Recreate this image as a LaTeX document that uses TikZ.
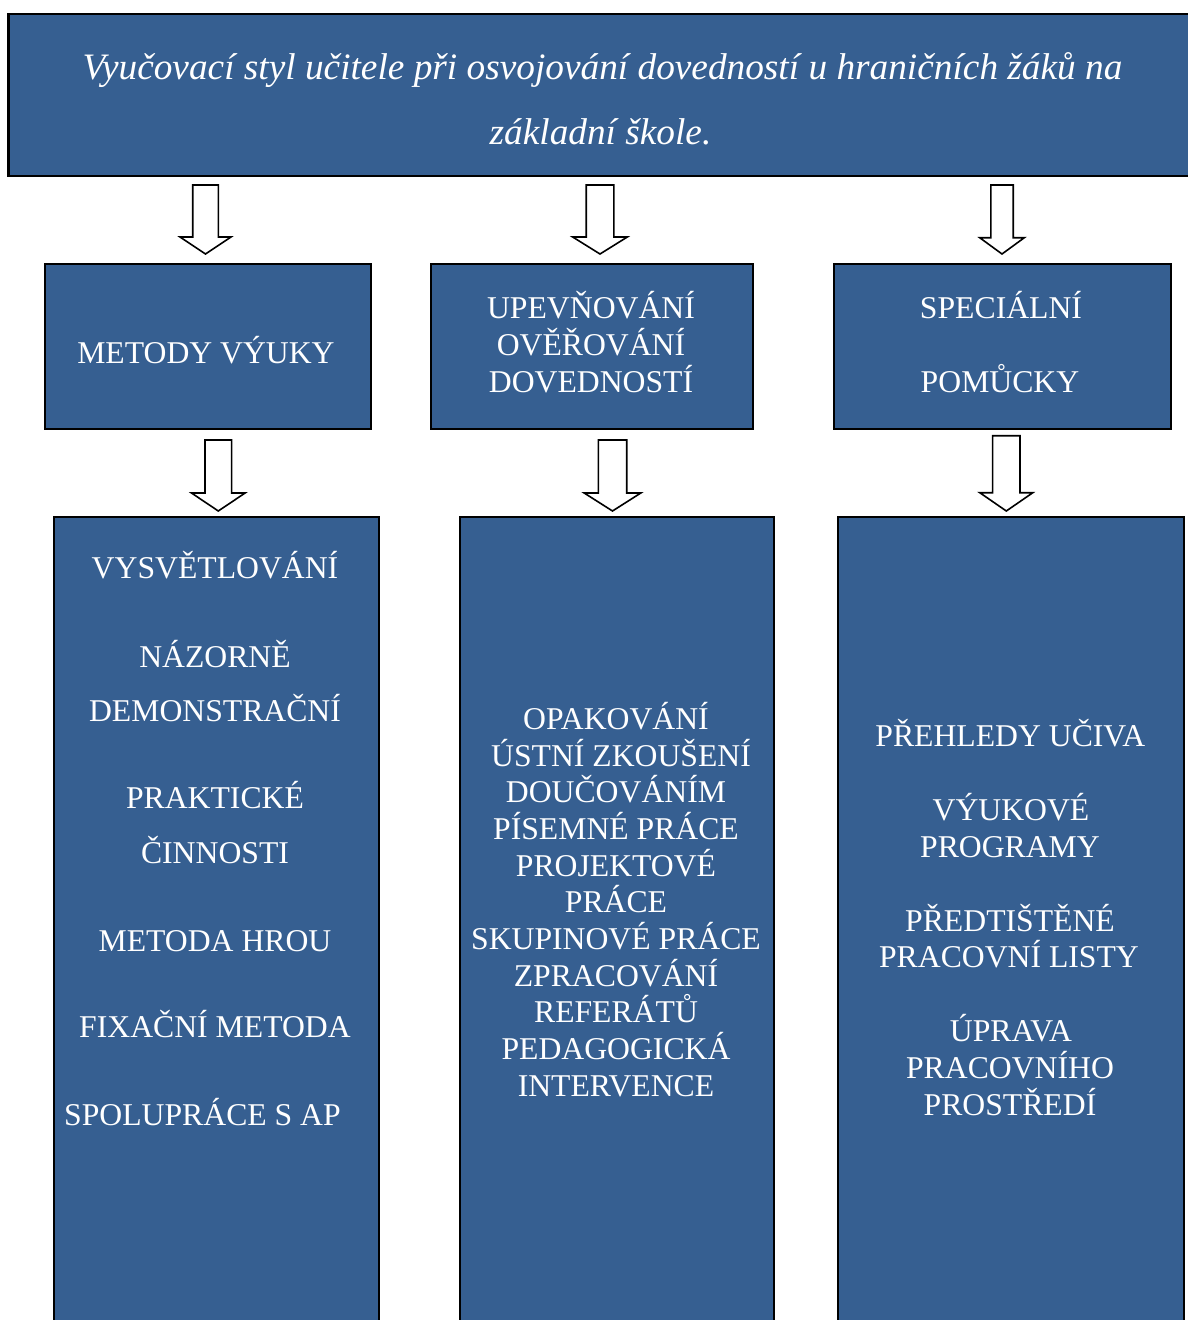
\documentclass[tikz,border=0pt]{standalone}
\usepackage{fontspec}
\setmainfont{Liberation Serif}
\definecolor{boxblue}{RGB}{54,95,145}
\tikzset{
  box/.style={draw=black, line width=2.6pt, fill=boxblue, inner sep=0pt, anchor=north west},
  txt/.style={text=white, inner sep=0pt, anchor=base, font=\fontsize{31.7}{36.7}\selectfont},
  ttl/.style={text=white, inner sep=0pt, anchor=base, font=\fontsize{37.3}{40}\selectfont\itshape},
  barrow/.style={draw=black, fill=white, line width=1.6pt, line join=miter}
}
\newcommand\blockarrow[6]{%
  \draw[barrow] ({#1-#2},#4) -- ({#1+#2},#4) -- ({#1+#2},#5) -- ({#1+#3},#5) -- (#1,#6)
    -- ({#1-#3},#5) -- ({#1-#2},#5) -- cycle;}
\begin{document}
\begin{tikzpicture}[x=1pt,y=-1pt]
\useasboundingbox (0,0) rectangle (1188,1320);
\clip (0,0) rectangle (1188,1320);
% title box
\node[box, minimum width=1200pt, minimum height=162pt] (title) at (7,12.5) {};
\node[ttl] (tl1) at (602.5,79) {Vyučovací styl učitele při osvojování dovedností u hraničních žáků na};
\node[ttl] (tl2) at (600.5,144) {základní škole.};
% middle row boxes
\node[box, minimum width=326pt, minimum height=165pt] (m1) at (43.5,262.5) {};
\node[box, minimum width=322pt, minimum height=165pt] (m2) at (429.5,262.5) {};
\node[box, minimum width=337pt, minimum height=165pt] (m3) at (832.5,262.5) {};
% bottom boxes
\node[box, minimum width=325pt, minimum height=830pt] (b1) at (52.5,515.5) {};
\node[box, minimum width=314pt, minimum height=830pt] (b2) at (458.5,515.5) {};
\node[box, minimum width=346pt, minimum height=830pt] (b3) at (836.5,515.5) {};
% arrows
\blockarrow{205.5}{12.8}{25.5}{185}{237}{254}
\blockarrow{600}{13.8}{27.3}{185}{237}{254}
\blockarrow{1002}{11.2}{22.3}{185}{237.7}{254}
\blockarrow{218.3}{13.3}{26.8}{440}{493}{511}
\blockarrow{612.5}{14.2}{28.3}{440}{493}{511}
\blockarrow{1006.3}{13.7}{26.5}{435.7}{492.7}{511}
% middle row texts
\node[txt] (m1a) at (206,363) {METODY VÝUKY};
\node[txt] (m2a) at (591,318.3) {UPEVŇOVÁNÍ};
\node[txt] (m2b) at (591,355.3) {OVĚŘOVÁNÍ};
\node[txt] (m2c) at (591,392.3) {DOVEDNOSTÍ};
\node[txt] (m3a) at (1001,318.3) {SPECIÁLNÍ};
\node[txt] (m3b) at (1000,392) {POMŮCKY};
% left bottom texts
\node[txt] (l1) at (215,578) {VYSVĚTLOVÁNÍ};
\node[txt] (l2) at (215,667) {NÁZORNĚ};
\node[txt] (l3) at (215,721) {DEMONSTRAČNÍ};
\node[txt] (l4) at (215,808) {PRAKTICKÉ};
\node[txt] (l5) at (215,863) {ČINNOSTI};
\node[txt] (l6) at (215,951) {METODA HROU};
\node[txt] (l7) at (215,1037) {FIXAČNÍ METODA};
\node[txt] (l8) at (202.5,1125) {SPOLUPRÁCE S AP};
% middle bottom texts
\node[txt] (c1) at (616,729.3) {OPAKOVÁNÍ};
\node[txt] (c2) at (621,766) {ÚSTNÍ ZKOUŠENÍ};
\node[txt] (c3) at (616,802.7) {DOUČOVÁNÍM};
\node[txt] (c4) at (616,839.4) {PÍSEMNÉ PRÁCE};
\node[txt] (c5) at (616,876.1) {PROJEKTOVÉ};
\node[txt] (c6) at (616,912.8) {PRÁCE};
\node[txt] (c7) at (616,949.5) {SKUPINOVÉ PRÁCE};
\node[txt] (c8) at (616,986.2) {ZPRACOVÁNÍ};
\node[txt] (c9) at (616,1022.9) {REFERÁTŮ};
\node[txt] (c10) at (616,1059.6) {PEDAGOGICKÁ};
\node[txt] (c11) at (616,1096.3) {INTERVENCE};
% right bottom texts
\node[txt] (r1) at (1010.3,746.7) {PŘEHLEDY UČIVA};
\node[txt] (r2) at (1011,820.7) {VÝUKOVÉ};
\node[txt] (r3) at (1010,857.3) {PROGRAMY};
\node[txt] (r4) at (1010,931) {PŘEDTIŠTĚNÉ};
\node[txt] (r5) at (1009,967.7) {PRACOVNÍ LISTY};
\node[txt] (r6) at (1011,1041.7) {ÚPRAVA};
\node[txt] (r7) at (1010,1078.3) {PRACOVNÍHO};
\node[txt] (r8) at (1010,1115) {PROSTŘEDÍ};
\end{tikzpicture}
\end{document}
